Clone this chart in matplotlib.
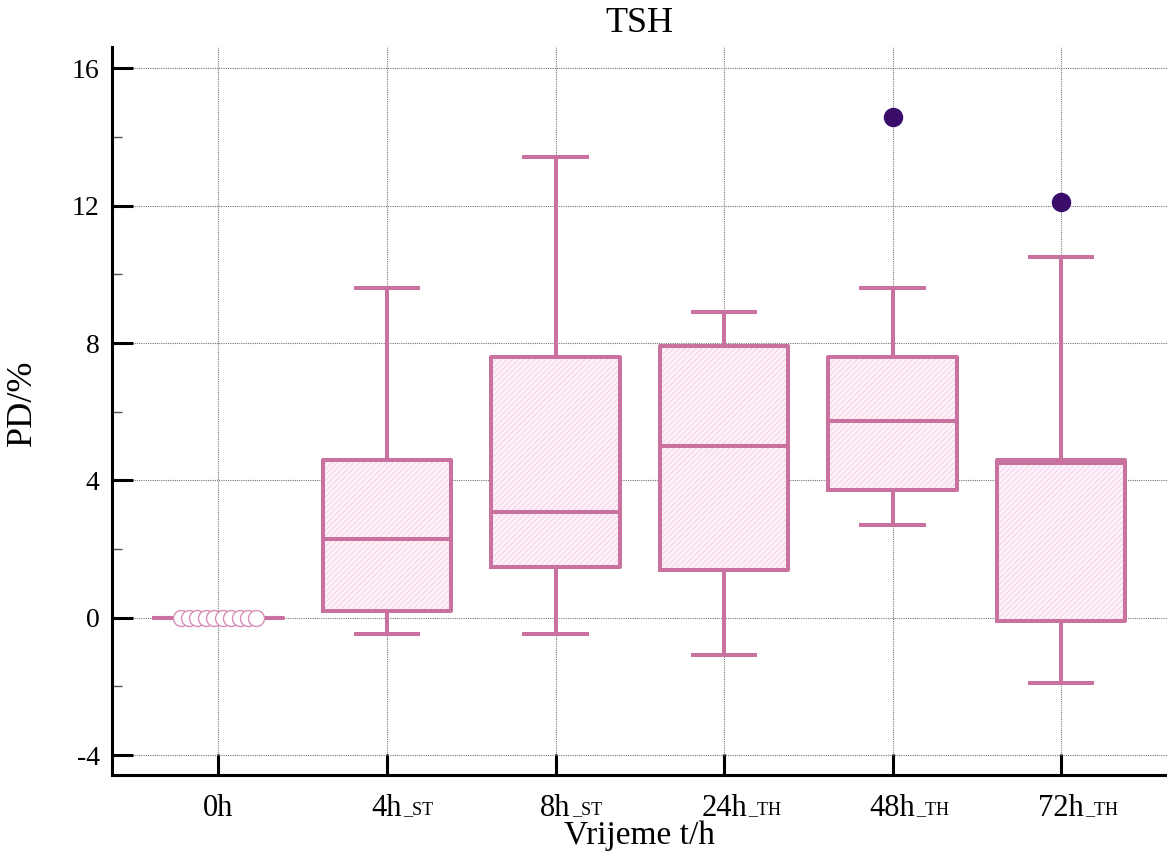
import matplotlib
matplotlib.use("Agg")
import matplotlib.pyplot as plt
import numpy as np

# ---- data ----
groups = ["0h", "4h", "8h", "24h", "48h", "72h"]
group_suffix = ["", "_ST", "_ST", "_TH", "_TH", "_TH"]
whislo = [0.0, -0.47, -0.47, -1.10, 2.71, -1.90]
q1 = [0.0, 0.20, 1.49, 1.40, 3.73, -0.09]
med = [0.0, 2.30, 3.09, 5.01, 5.74, 4.52]
q3 = [0.0, 4.60, 7.60, 7.90, 7.60, 4.58]
whishi = [0.0, 9.59, 13.41, 8.89, 9.59, 10.50]
outliers = [[], [], [], [], [14.58], [12.10]]
zero_points = [0.0] * 10  # the ten identical values at 0h

yticks = [-4, 0, 4, 8, 12, 16]

edge = "#C9729F"
fill = "#FDF1FA"
hatch_col = "#F3CDE4"
flier_col = "#3A0D6B"

plt.rcParams["font.family"] = ["Liberation Serif", "DejaVu Serif"]
plt.rcParams["hatch.linewidth"] = 0.6
plt.rcParams["axes.unicode_minus"] = False

fig = plt.figure(figsize=(11.67, 8.63), dpi=100)
ax = fig.add_axes([112 / 1167, 1 - 775 / 863, 1 - 112 / 1167, (775 - 47) / 863])

pos = np.arange(len(groups))
stats = []
for i in range(len(groups)):
    stats.append(dict(whislo=whislo[i], q1=q1[i], med=med[i], q3=q3[i],
                      whishi=whishi[i], fliers=outliers[i]))

# filled, hatched boxes first
ax.bxp(stats, positions=pos, widths=0.76, patch_artist=True, showfliers=False,
       boxprops=dict(facecolor=fill, edgecolor=hatch_col, hatch="//////", linewidth=0),
       medianprops=dict(linewidth=0), whiskerprops=dict(linewidth=0),
       capprops=dict(linewidth=0), zorder=2)

# outlines, whiskers, caps, outliers
lw = 2.9
ax.bxp(stats, positions=pos, widths=0.76, capwidths=0.37,
       boxprops=dict(color=edge, linewidth=lw),
       medianprops=dict(color=edge, linewidth=lw),
       whiskerprops=dict(color=edge, linewidth=lw),
       capprops=dict(color=edge, linewidth=lw),
       flierprops=dict(marker="o", markersize=13, markerfacecolor=flier_col,
                       markeredgecolor=flier_col, linestyle="none"),
       zorder=3)

# the individual zero values at 0h, spread sideways
jitter = np.linspace(-0.225, 0.225, len(zero_points))
ax.plot(pos[0] + jitter, zero_points, "o", markersize=11.5, markerfacecolor="white",
        markeredgecolor="#D88DB8", markeredgewidth=1.0, linestyle="none", zorder=4)

ax.set_xlim(-0.632, 5.629)
ax.set_ylim(-4.58, 16.62)

ax.set_yticks(yticks)
ax.set_yticks(np.arange(-2, 16, 4), minor=True)
ax.set_xticks(pos)
ax.set_xticklabels(groups)

ax.grid(True, which="major", color="#777777", linestyle=(0, (1, 1)), linewidth=0.8, zorder=0)
ax.set_axisbelow(True)

for s in ["top", "right"]:
    ax.spines[s].set_visible(False)
for s in ["left", "bottom"]:
    ax.spines[s].set_linewidth(2.2)

ax.tick_params(axis="both", which="major", direction="in", length=15, width=2.2)
ax.tick_params(axis="y", which="major", pad=9, labelsize=20)
ax.tick_params(axis="x", which="major", pad=13.5, labelsize=22)
ax.tick_params(axis="y", which="minor", direction="in", length=7, width=1.0, color="#555555")

ax.set_xlabel("Vrijeme t/h", fontsize=24)
ax.xaxis.set_label_coords(0.5, -0.062)
ax.set_ylabel("PD/%", fontsize=26, va="center")
ax.yaxis.set_label_coords(-0.085, 0.512)
ax.set_title("TSH", fontsize=26, pad=11)

# small-caps style suffixes after the tick labels
fig.canvas.draw()
for lab, suf in zip(ax.get_xticklabels(), group_suffix):
    if not suf:
        continue
    bb = lab.get_window_extent()
    ax.annotate(suf, xy=(bb.x1 + 1, bb.y0 + 5), xycoords="figure pixels",
                ha="left", va="bottom", fontsize=13)

fig.savefig("out.png", dpi=100)
